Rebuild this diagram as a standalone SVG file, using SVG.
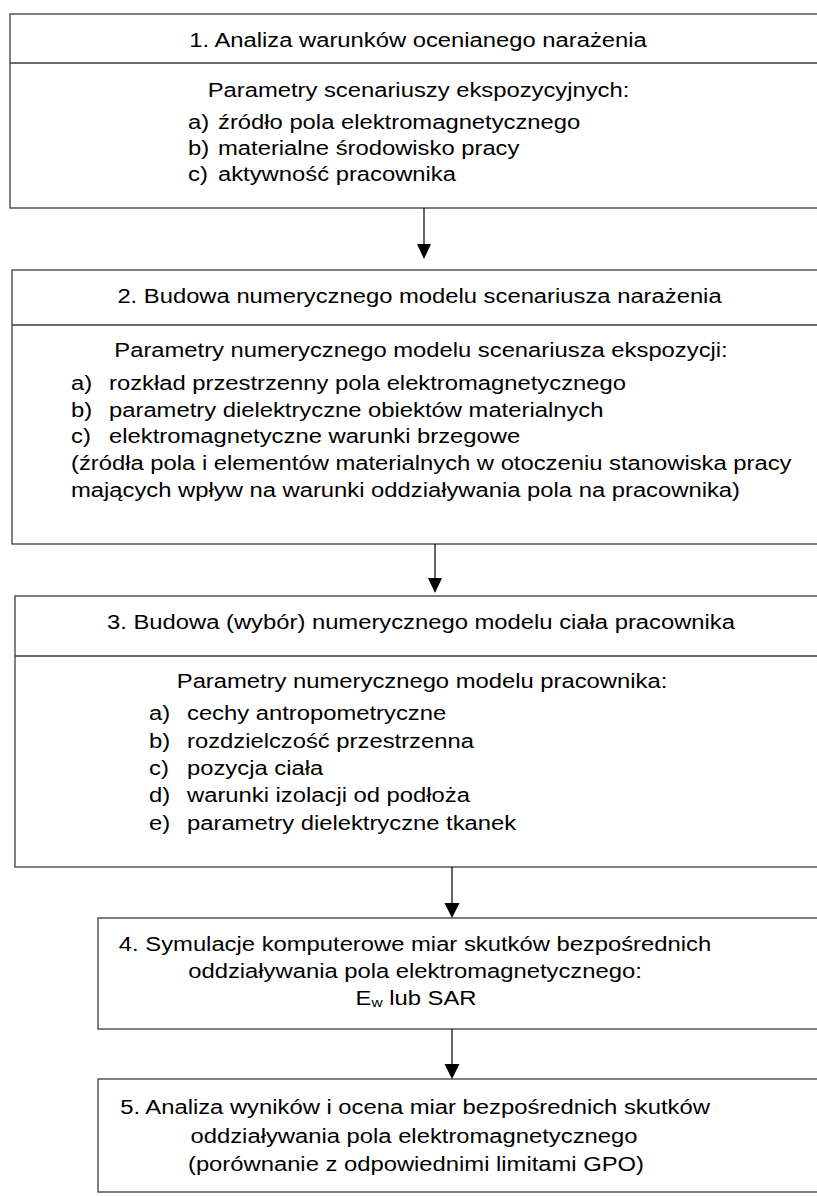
<svg xmlns="http://www.w3.org/2000/svg" width="817" height="1196" viewBox="0 0 817 1196">
<style>
  .box { fill: #ffffff; stroke: #3c3c3c; stroke-width: 1.3; }
  .div { stroke: #3c3c3c; stroke-width: 1.3; fill: none; }
  .t { font-family: "Liberation Sans", Arial, sans-serif; font-size: 20px; fill: #000000; }
  .c { text-anchor: middle; }
  .conn { stroke: #000000; stroke-width: 1.2; fill: none; }
  .head { fill: #000000; stroke: none; }
</style>
<rect x="0" y="0" width="817" height="1196" fill="#ffffff"/>

<g id="node1">
  <rect class="box" x="10" y="14" width="820" height="194"/>
  <line class="div" x1="10" y1="63" x2="830" y2="63"/>
  <text class="t c" transform="translate(418,47) scale(1.19,1)">1. Analiza warunków ocenianego narażenia</text>
  <text class="t c" transform="translate(418.5,97) scale(1.19,1)">Parametry scenariuszy ekspozycyjnych:</text>
  <text class="t" transform="translate(188,129) scale(1.19,1)">a)</text>
  <text class="t" transform="translate(218,129) scale(1.19,1)">źródło pola elektromagnetycznego</text>
  <text class="t" transform="translate(188,155) scale(1.19,1)">b)</text>
  <text class="t" transform="translate(218,155) scale(1.19,1)">materialne środowisko pracy</text>
  <text class="t" transform="translate(188,181) scale(1.19,1)">c)</text>
  <text class="t" transform="translate(218,181) scale(1.19,1)">aktywność pracownika</text>
</g>

<g id="node2">
  <rect class="box" x="12" y="270" width="820" height="274"/>
  <line class="div" x1="12" y1="325" x2="832" y2="325"/>
  <text class="t c" transform="translate(419.5,303) scale(1.19,1)">2. Budowa numerycznego modelu scenariusza narażenia</text>
  <text class="t c" transform="translate(421,357) scale(1.19,1)">Parametry numerycznego modelu scenariusza ekspozycji:</text>
  <text class="t" transform="translate(71,390) scale(1.19,1)">a)</text>
  <text class="t" transform="translate(109,390) scale(1.19,1)">rozkład przestrzenny pola elektromagnetycznego</text>
  <text class="t" transform="translate(71,417) scale(1.19,1)">b)</text>
  <text class="t" transform="translate(109,417) scale(1.19,1)">parametry dielektryczne obiektów materialnych</text>
  <text class="t" transform="translate(71,443) scale(1.19,1)">c)</text>
  <text class="t" transform="translate(109,443) scale(1.19,1)">elektromagnetyczne warunki brzegowe</text>
  <text class="t" transform="translate(71,470) scale(1.19,1)">(źródła pola i elementów materialnych w otoczeniu stanowiska pracy</text>
  <text class="t" transform="translate(71,497) scale(1.19,1)">mających wpływ na warunki oddziaływania pola na pracownika)</text>
</g>

<g id="node3">
  <rect class="box" x="15" y="596" width="820" height="271"/>
  <line class="div" x1="15" y1="656" x2="835" y2="656"/>
  <text class="t c" transform="translate(421,629) scale(1.19,1)">3. Budowa (wybór) numerycznego modelu ciała pracownika</text>
  <text class="t c" transform="translate(422,688) scale(1.19,1)">Parametry numerycznego modelu pracownika:</text>
  <text class="t" transform="translate(149,720) scale(1.19,1)">a)</text>
  <text class="t" transform="translate(187,720) scale(1.19,1)">cechy antropometryczne</text>
  <text class="t" transform="translate(149,748) scale(1.19,1)">b)</text>
  <text class="t" transform="translate(187,748) scale(1.19,1)">rozdzielczość przestrzenna</text>
  <text class="t" transform="translate(149,775) scale(1.19,1)">c)</text>
  <text class="t" transform="translate(187,775) scale(1.19,1)">pozycja ciała</text>
  <text class="t" transform="translate(149,802) scale(1.19,1)">d)</text>
  <text class="t" transform="translate(187,802) scale(1.19,1)">warunki izolacji od podłoża</text>
  <text class="t" transform="translate(149,830) scale(1.19,1)">e)</text>
  <text class="t" transform="translate(187,830) scale(1.19,1)">parametry dielektryczne tkanek</text>
</g>

<g id="node4">
  <rect class="box" x="98" y="918" width="740" height="111"/>
  <text class="t c" transform="translate(415,951) scale(1.19,1)">4. Symulacje komputerowe miar skutków bezpośrednich</text>
  <text class="t c" transform="translate(415,978) scale(1.19,1)">oddziaływania pola elektromagnetycznego:</text>
  <text class="t c" transform="translate(416,1005) scale(1.19,1)">E<tspan font-size="13" dy="2">w</tspan><tspan dy="-2"> lub SAR</tspan></text>
</g>

<g id="node5">
  <rect class="box" x="98" y="1079" width="740" height="113"/>
  <text class="t c" transform="translate(415,1114) scale(1.19,1)">5. Analiza wyników i ocena miar bezpośrednich skutków</text>
  <text class="t c" transform="translate(414,1143) scale(1.19,1)">oddziaływania pola elektromagnetycznego</text>
  <text class="t c" transform="translate(416,1171) scale(1.19,1)">(porównanie z odpowiednimi limitami GPO)</text>
</g>

<g id="connectors">
  <line class="conn" x1="424" y1="208" x2="424" y2="246"/>
  <polygon class="head" points="417,244 431,244 424,259"/>
  <line class="conn" x1="435" y1="544" x2="435" y2="580"/>
  <polygon class="head" points="428,578 442,578 435,593"/>
  <line class="conn" x1="452" y1="867" x2="452" y2="905"/>
  <polygon class="head" points="444.5,903 459.5,903 452,918"/>
  <line class="conn" x1="452" y1="1029" x2="452" y2="1066"/>
  <polygon class="head" points="444.5,1064 459.5,1064 452,1079"/>
</g>
</svg>
